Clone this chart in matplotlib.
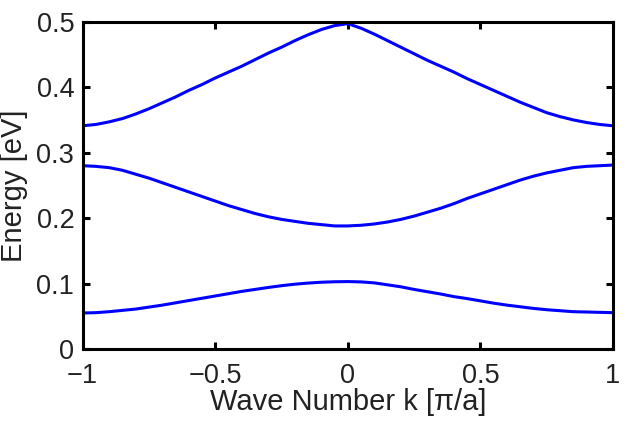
import matplotlib
matplotlib.use("Agg")
import matplotlib.pyplot as plt
from matplotlib.ticker import FixedLocator, FixedFormatter

plt.rcParams['font.family'] = ['Liberation Sans', 'DejaVu Sans']

k = [-1.0, -0.95, -0.9, -0.85, -0.8, -0.75, -0.7, -0.65, -0.6, -0.55, -0.5,
     -0.45, -0.4, -0.35, -0.3, -0.25, -0.2, -0.15, -0.1, -0.05, 0.0,
     0.05, 0.1, 0.15, 0.2, 0.25, 0.3, 0.35, 0.4, 0.45, 0.5,
     0.55, 0.6, 0.65, 0.7, 0.75, 0.8, 0.85, 0.9, 0.95, 1.0]

band_top = [0.341, 0.343, 0.347, 0.352, 0.359, 0.367, 0.376, 0.385, 0.395, 0.404, 0.414,
            0.423, 0.432, 0.442, 0.452, 0.461, 0.471, 0.480, 0.488, 0.494, 0.497,
            0.490, 0.481, 0.471, 0.461, 0.451, 0.441, 0.432, 0.423, 0.413, 0.404,
            0.395, 0.386, 0.377, 0.369, 0.361, 0.355, 0.350, 0.346, 0.343, 0.341]
band_mid = [0.280, 0.279, 0.277, 0.273, 0.267, 0.261, 0.254, 0.247, 0.240, 0.233, 0.226,
            0.219, 0.213, 0.207, 0.202, 0.198, 0.195, 0.192, 0.190, 0.188, 0.188,
            0.189, 0.191, 0.194, 0.198, 0.203, 0.209, 0.215, 0.222, 0.230, 0.237,
            0.244, 0.251, 0.258, 0.264, 0.269, 0.273, 0.277, 0.279, 0.280, 0.281]
band_low = [0.055, 0.0555, 0.057, 0.059, 0.061, 0.064, 0.067, 0.0705, 0.074, 0.0775, 0.081,
            0.0845, 0.088, 0.091, 0.094, 0.0967, 0.099, 0.1007, 0.102, 0.1027, 0.103,
            0.1025, 0.101, 0.098, 0.095, 0.091, 0.0875, 0.084, 0.080, 0.077, 0.0735,
            0.070, 0.067, 0.0645, 0.062, 0.060, 0.0585, 0.057, 0.0565, 0.056, 0.0555]

xticks = [-1, -0.5, 0, 0.5, 1]
xticklabels = ["\u22121", "\u22120.5", "0", "0.5", "1"]
yticks = [0, 0.1, 0.2, 0.3, 0.4, 0.5]
yticklabels = ["0", "0.1", "0.2", "0.3", "0.4", "0.5"]

fig = plt.figure(figsize=(6.37, 4.22), dpi=100)
ax = fig.add_axes([0.1298, 0.1730, 0.8325, 0.7756])

for band in (band_top, band_mid, band_low):
    ax.plot(k, band, color=(0, 0, 1), linewidth=2.2, solid_joinstyle='round',
            solid_capstyle='butt')

ax.set_xlim(-1, 1)
ax.set_ylim(0, 0.5)
ax.xaxis.set_major_locator(FixedLocator(xticks))
ax.xaxis.set_major_formatter(FixedFormatter(xticklabels))
ax.yaxis.set_major_locator(FixedLocator(yticks))
ax.yaxis.set_major_formatter(FixedFormatter(yticklabels))

ax.tick_params(direction='in', top=True, right=True, length=5, width=2.2,
               labelsize=19.5, colors='black', labelcolor='#222222')
ax.tick_params(axis='x', pad=10)
ax.tick_params(axis='y', pad=6)
for s in ax.spines.values():
    s.set_linewidth(2.2)
    s.set_color('black')

ax.set_xlabel("Wave Number k [\u03c0/a]", fontsize=21, color='#222222')
ax.set_ylabel("Energy [eV]", fontsize=21, color='#222222')
ax.xaxis.set_label_coords(0.5, -0.119, transform=ax.transAxes)
ax.yaxis.set_label_coords(-0.103, 0.5, transform=ax.transAxes)
ax.xaxis.label.set_va('top')
ax.yaxis.label.set_va('bottom')

fig.savefig("out.png", dpi=100, facecolor='white')
